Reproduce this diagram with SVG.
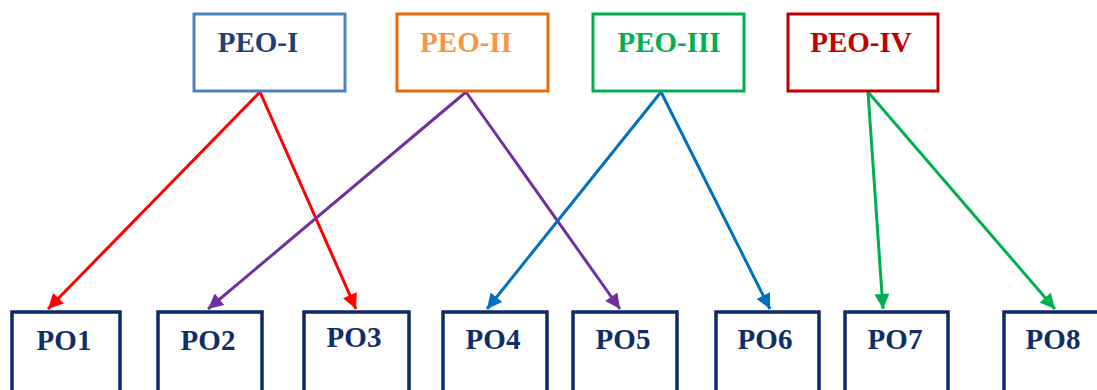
<svg xmlns="http://www.w3.org/2000/svg" width="1097" height="390" viewBox="0 0 1097 390">
<style>
.box{fill:#fff;stroke-width:3}
.po{fill:#fff;stroke:#0b2a66;stroke-width:3.5}
text{font-family:"Liberation Serif","Times New Roman",serif;font-weight:bold;text-anchor:middle}
.pot{font-size:29px;fill:#0f2d6b}
.peot{font-size:29px}
.c{fill:none;stroke-width:3}
</style>
<defs>
<marker id="aR" viewBox="0 0 10 10" refX="10" refY="5" markerWidth="5.5" markerHeight="5" orient="auto" markerUnits="strokeWidth"><path d="M0,0L10,5L0,10z" fill="#ff0000"/></marker>
<marker id="aP" viewBox="0 0 10 10" refX="10" refY="5" markerWidth="5.5" markerHeight="5" orient="auto" markerUnits="strokeWidth"><path d="M0,0L10,5L0,10z" fill="#7030a0"/></marker>
<marker id="aB" viewBox="0 0 10 10" refX="10" refY="5" markerWidth="5.5" markerHeight="5" orient="auto" markerUnits="strokeWidth"><path d="M0,0L10,5L0,10z" fill="#0070c0"/></marker>
<marker id="aG" viewBox="0 0 10 10" refX="10" refY="5" markerWidth="5.5" markerHeight="5" orient="auto" markerUnits="strokeWidth"><path d="M0,0L10,5L0,10z" fill="#00b050"/></marker>
</defs>
<g id="connectors">
<line class="c" x1="260" y1="92" x2="48" y2="309" stroke="#ff0000" marker-end="url(#aR)"/>
<line class="c" x1="260" y1="92" x2="356" y2="309" stroke="#ff0000" marker-end="url(#aR)"/>
<line class="c" x1="466" y1="92" x2="208" y2="309" stroke="#7030a0" marker-end="url(#aP)"/>
<line class="c" x1="466" y1="92" x2="620" y2="309" stroke="#7030a0" marker-end="url(#aP)"/>
<line class="c" x1="661" y1="92" x2="487" y2="309" stroke="#0070c0" marker-end="url(#aB)"/>
<line class="c" x1="661" y1="92" x2="770" y2="309" stroke="#0070c0" marker-end="url(#aB)"/>
<line class="c" x1="868" y1="92" x2="883" y2="309" stroke="#00b050" marker-end="url(#aG)"/>
<line class="c" x1="868" y1="92" x2="1055" y2="309" stroke="#00b050" marker-end="url(#aG)"/>
</g>
<g id="peo1"><rect class="box" x="194" y="14" width="151" height="77" stroke="#4f81bd"/><text class="peot" x="258" y="52" fill="#1f3f7a">PEO-I</text></g>
<g id="peo2"><rect class="box" x="397" y="14" width="151" height="77" stroke="#e46c0a"/><text class="peot" x="466" y="52" fill="#f79646">PEO-II</text></g>
<g id="peo3"><rect class="box" x="593" y="14" width="151" height="77" stroke="#00b050"/><text class="peot" x="669" y="52" fill="#00b050">PEO-III</text></g>
<g id="peo4"><rect class="box" x="788" y="14" width="150" height="77" stroke="#c00000"/><text class="peot" x="861" y="52" fill="#c00000">PEO-IV</text></g>
<g id="po1"><rect class="po" x="12" y="312" width="108" height="100"/><text class="pot" x="64" y="350">PO1</text></g>
<g id="po2"><rect class="po" x="158" y="312" width="104" height="100"/><text class="pot" x="208" y="350">PO2</text></g>
<g id="po3"><rect class="po" x="304" y="312" width="105" height="100"/><text class="pot" x="354" y="347">PO3</text></g>
<g id="po4"><rect class="po" x="443" y="312" width="104" height="100"/><text class="pot" x="493" y="349">PO4</text></g>
<g id="po5"><rect class="po" x="573" y="312" width="104" height="100"/><text class="pot" x="623" y="349">PO5</text></g>
<g id="po6"><rect class="po" x="716" y="312" width="103" height="100"/><text class="pot" x="765" y="349">PO6</text></g>
<g id="po7"><rect class="po" x="845" y="312" width="103" height="100"/><text class="pot" x="895" y="349">PO7</text></g>
<g id="po8"><rect class="po" x="1004" y="312" width="104" height="100"/><text class="pot" x="1053" y="349">PO8</text></g>
</svg>
